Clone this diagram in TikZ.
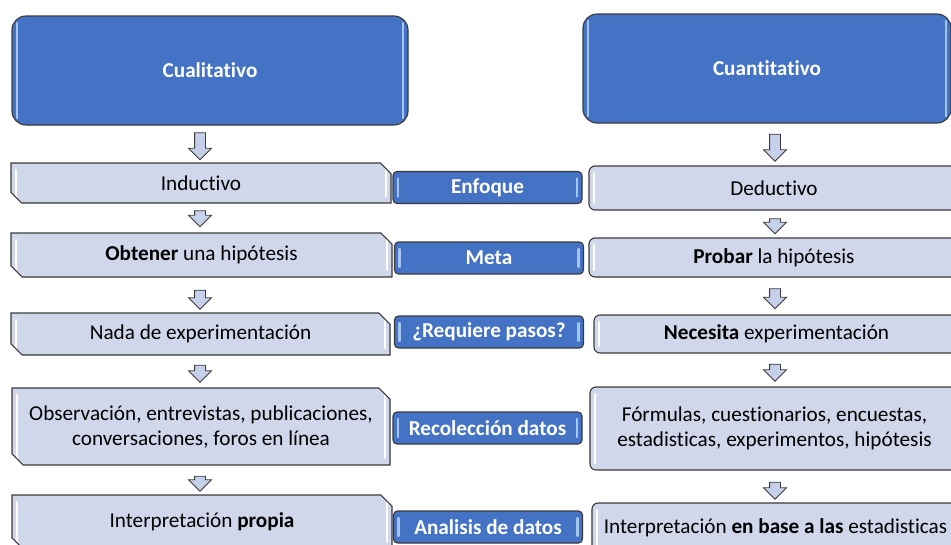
\documentclass[tikz,border=0pt]{standalone}
\usepackage{fontspec}
\setmainfont{Carlito}[Ligatures=NoCommon]
\usetikzlibrary{shapes.misc}
\usetikzlibrary{shapes.arrows}
\definecolor{azul}{HTML}{4472C4}
\definecolor{azulbrillo}{HTML}{A6C4F0}
\definecolor{claro}{HTML}{D0D7EB}
\definecolor{borde}{HTML}{3A3A3A}
\definecolor{flechafill}{HTML}{C6D0EA}
\newcommand{\letra}{\fontsize{21.2}{25}\selectfont}
\tikzset{brillo/.style={path picture={
           \draw[line width=2.2pt,#1,line cap=round]
             ([xshift=5pt,yshift=-7pt]path picture bounding box.north west) --
             ([xshift=5pt,yshift=7pt]path picture bounding box.south west);
           \draw[line width=2.2pt,#1,line cap=round]
             ([xshift=-5pt,yshift=-7pt]path picture bounding box.north east) --
             ([xshift=-5pt,yshift=7pt]path picture bounding box.south east);}},
         titulo/.style={draw=borde,line width=1.1pt,fill=azul,rounded corners=14pt,
                        text=white,font=\letra\bfseries,brillo=azulbrillo},
         etiqueta/.style={draw=borde,line width=1.1pt,fill=azul,rounded corners=4pt,
                        text=white,font=\letra\bfseries,minimum width=189pt,
                        minimum height=32pt,inner sep=0pt,brillo=azulbrillo},
         izq/.style={chamfered rectangle,chamfered rectangle corners={north east,south west},
                        chamfered rectangle xsep=8pt,draw=borde,line width=1.1pt,fill=claro,
                        font=\letra,align=center,inner sep=0pt,brillo=white},
         der/.style={rectangle,rounded corners=6pt,draw=borde,line width=1.1pt,fill=claro,
                        font=\letra,align=center,inner sep=0pt,brillo=white},
         flecha/.style={single arrow,rotate=-90,draw=borde,line width=0.9pt,fill=flechafill,
                        minimum height=#1,inner xsep=1pt,inner ysep=5pt,
                        single arrow head extend=6pt,single arrow tip angle=90},
        }

\begin{document}
\begin{tikzpicture}[x=1pt,y=-1pt]
\useasboundingbox (0,0) rectangle (951,544);
\clip (0,0) rectangle (951,544);

% cabeceras
\node[titulo,minimum width=396pt,minimum height=109pt] (cual) at (210,70.5) {Cualitativo};
\node[titulo,minimum width=368pt,minimum height=109pt] (cuan) at (767,68.5) {Cuantitativo};

% columna izquierda
\node[izq,minimum width=380pt,minimum height=40pt] (ind) at (201,183) {Inductivo};
\node[izq,minimum width=381pt,minimum height=44pt] (obt) at (201.5,255) {\textbf{Obtener} una hipótesis};
\node[izq,minimum width=379pt,minimum height=42pt] (nada) at (200.5,334) {Nada de experimentación};
\node[izq,minimum width=378pt,minimum height=77pt] (obs) at (201,426.5)
  {Observación, entrevistas, publicaciones,\\conversaciones, foros en línea};
\node[izq,minimum width=380pt,minimum height=54pt] (prop) at (202,522) {Interpretación \textbf{propia}};

% columna central
\node[etiqueta] (enf) at (487.5,187.5) {Enfoque};
\node[etiqueta] (meta) at (489,258) {Meta};
\node[etiqueta] (req) at (489,332) {¿Requiere pasos?};
\node[etiqueta] (rec) at (487.5,428) {Recolección datos};
\node[etiqueta] (ana) at (488,527) {Analisis de datos};

% columna derecha
\node[der,minimum width=370pt,minimum height=44pt] (ded) at (774,188) {Deductivo};
\node[der,minimum width=370pt,minimum height=39pt] (prob) at (774,257.5) {\textbf{Probar} la hipótesis};
\node[der,minimum width=365pt,minimum height=38pt] (nec) at (776.5,334) {\textbf{Necesita} experimentación};
\node[der,minimum width=369pt,minimum height=83pt] (form) at (774.5,428.5)
  {Fórmulas, cuestionarios, encuestas,\\estadisticas, experimentos, hipótesis};
\node[der,minimum width=367pt,minimum height=50pt] (base) at (775.5,528)
  {Interpretación \textbf{en base a las} estadisticas};

% flechas
\node[flecha=27pt] (fi1) at (200,143.5) {};
\node[flecha=16pt] (fi2) at (200,216) {};
\node[flecha=19pt] (fi3) at (200,297) {};
\node[flecha=17pt] (fi4) at (200,371) {};
\node[flecha=15pt] (fi5) at (200,481) {};
\node[flecha=27pt] (fd1) at (775,145) {};
\node[flecha=15pt] (fd2) at (775,223.5) {};
\node[flecha=20pt] (fd3) at (775,296) {};
\node[flecha=17pt] (fd4) at (775,370) {};
\node[flecha=17pt] (fd5) at (775,488) {};
\end{tikzpicture}
\end{document}
